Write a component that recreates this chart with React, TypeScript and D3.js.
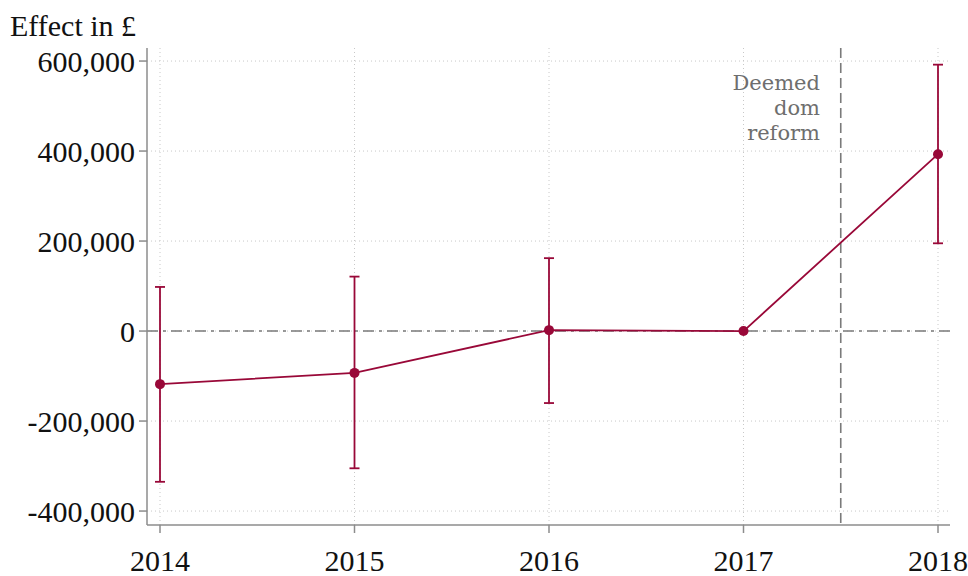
import * as d3 from "d3";

const YEARS = [2014, 2015, 2016, 2017, 2018];
const ESTIMATE = [-118000, -93000, 2000, 0, 393000];
const CI_LOW = [-335000, -305000, -160000, null, 195000];
const CI_HIGH = [98000, 121000, 162000, null, 592000];
const Y_TICKS = [-400000, -200000, 0, 200000, 400000, 600000];
const ANNOTATION = ["Deemed", "dom", "reform"];

const W = 968;
const H = 576;
const left = 147, right = 950, top = 48, bottom = 525;
const RED = "#990838";
const FONT = "'Liberation Serif', 'DejaVu Serif', serif";

export default function App() {
  const x = d3.scaleLinear().domain([2014, 2018]).range([160, 938]);
  const y = d3.scaleLinear().domain([-431000, 629000]).range([bottom, top]);
  // hyphen as minus, like the original
  const fmt = (v: number) => d3.format(",")(v).replace("\u2212", "-");
  const line = d3.line<number>()
    .x((d, i) => x(YEARS[i]))
    .y((d) => y(d));

  return (
    <svg width={W} height={H} style={{ position: "absolute", left: 0, top: 0, background: "#fff" }} fontFamily={FONT}>
      {/* grid */}
      {Y_TICKS.map((t) => (
        <line key={"gy" + t} x1={left} x2={right} y1={y(t)} y2={y(t)} stroke="#c8c8c8" strokeWidth={1} strokeDasharray="1,3" />
      ))}
      {YEARS.map((t) => (
        <line key={"gx" + t} x1={x(t)} x2={x(t)} y1={top} y2={bottom} stroke="#c8c8c8" strokeWidth={1} strokeDasharray="1,3" />
      ))}
      {/* reference lines */}
      <line x1={left} x2={right} y1={y(0)} y2={y(0)} stroke="#7a7a7a" strokeWidth={1.6} strokeDasharray="11,5,3,5" />
      <line x1={x(2017.5)} x2={x(2017.5)} y1={top} y2={bottom} stroke="#7a7a7a" strokeWidth={1.6} strokeDasharray="10,5" />
      {/* axes */}
      <line x1={left} x2={left} y1={top} y2={bottom} stroke="#8c8c8c" strokeWidth={1.5} />
      <line x1={left} x2={right} y1={bottom} y2={bottom} stroke="#8c8c8c" strokeWidth={1.5} />
      {Y_TICKS.map((t) => (
        <g key={"ty" + t}>
          <line x1={left - 8} x2={left} y1={y(t)} y2={y(t)} stroke="#8c8c8c" strokeWidth={1.5} />
          <text x={left - 12} y={y(t)} dy="0.35em" textAnchor="end" fontSize={30} fill="#111">
            {fmt(t)}
          </text>
        </g>
      ))}
      {YEARS.map((t) => (
        <g key={"tx" + t}>
          <line x1={x(t)} x2={x(t)} y1={bottom} y2={bottom + 8} stroke="#8c8c8c" strokeWidth={1.5} />
          <text x={x(t)} y={bottom + 46} textAnchor="middle" fontSize={30} fill="#111">
            {t}
          </text>
        </g>
      ))}
      <text x={10} y={36} fontSize={30} fill="#111">Effect in £</text>
      {/* annotation */}
      {ANNOTATION.map((s, i) => (
        <text key={s} x={820} y={90 + i * 25} textAnchor="end" fontSize={21} fill="#6e6e6e" fontFamily="'DejaVu Serif', serif">
          {s}
        </text>
      ))}
      {/* error bars */}
      {YEARS.map((t, i) =>
        CI_LOW[i] == null ? null : (
          <g key={"ci" + t} stroke={RED} strokeWidth={1.8}>
            <line x1={x(t)} x2={x(t)} y1={y(CI_LOW[i] as number)} y2={y(CI_HIGH[i] as number)} />
            <line x1={x(t) - 5} x2={x(t) + 5} y1={y(CI_LOW[i] as number)} y2={y(CI_LOW[i] as number)} />
            <line x1={x(t) - 5} x2={x(t) + 5} y1={y(CI_HIGH[i] as number)} y2={y(CI_HIGH[i] as number)} />
          </g>
        )
      )}
      <path d={line(ESTIMATE) || ""} fill="none" stroke={RED} strokeWidth={1.8} />
      {ESTIMATE.map((v, i) => (
        <circle key={"p" + i} cx={x(YEARS[i])} cy={y(v)} r={5} fill={RED} />
      ))}
    </svg>
  );
}
